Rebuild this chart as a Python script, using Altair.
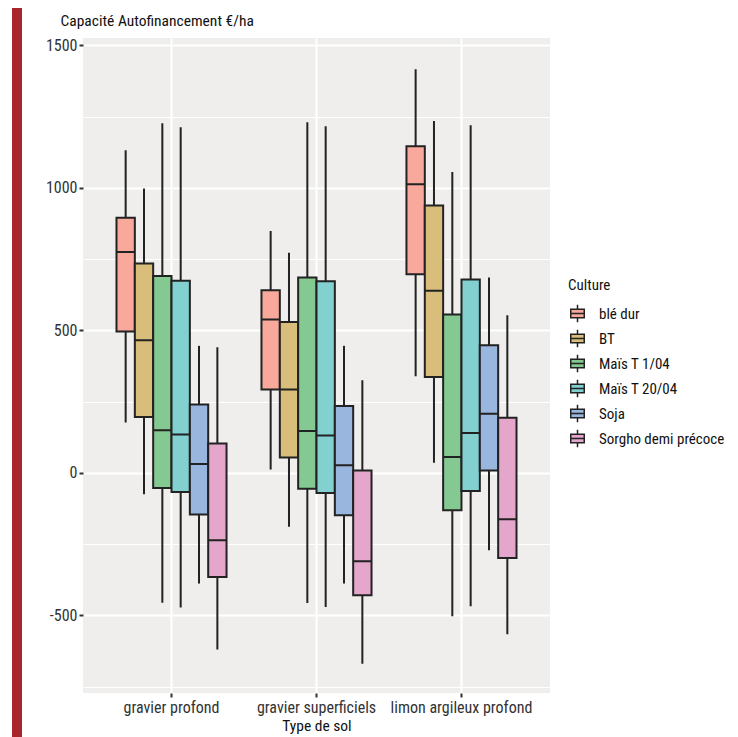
import altair as alt
import pandas as pd

FONT = "Liberation Sans Narrow, Roboto Condensed, DejaVu Sans Condensed, Liberation Sans, sans-serif"

soils = ["gravier profond", "gravier superficiels", "limon argileux profond"]
cultures = ["blé dur", "BT", "Maïs T 1/04", "Maïs T 20/04", "Soja", "Sorgho demi précoce"]
colors = ["#F9A99B", "#D9BD7B", "#84C892", "#82D0D0", "#98B6DE", "#E4A6CB"]

# per soil, per culture (same order as cultures)
whisker_low = [
    [177, -75, -455, -472, -388, -619],
    [12, -189, -456, -470, -388, -669],
    [339, 36, -503, -468, -271, -566],
]
q1 = [
    [496, 196, -53, -67, -146, -365],
    [293, 54, -55, -70, -148, -429],
    [697, 337, -131, -63, 9, -298],
]
median = [
    [775, 466, 150, 135, 31, -236],
    [538, 293, 147, 131, 27, -310],
    [1013, 639, 56, 140, 208, -162],
]
q3 = [
    [895, 735, 691, 674, 240, 103],
    [641, 530, 686, 673, 235, 9],
    [1146, 938, 556, 679, 448, 194],
]
whisker_high = [
    [1132, 998, 1227, 1213, 446, 441],
    [849, 773, 1230, 1216, 446, 325],
    [1416, 1235, 1056, 1220, 686, 553],
]

y_ticks = [-750, -500, -250, 0, 250, 500, 750, 1000, 1250, 1500]
y_domain = [-772, 1526]

rows = []
for i, s in enumerate(soils):
    for j, c in enumerate(cultures):
        rows.append({
            "sol": s, "culture": c,
            "lo": whisker_low[i][j], "q1": q1[i][j], "med": median[i][j],
            "q3": q3[i][j], "hi": whisker_high[i][j],
        })
df = pd.DataFrame(rows)

major = "datum.value % 500 === 0"

x_enc = alt.X(
    "sol:N", sort=soils, title="Type de sol",
    scale=alt.Scale(paddingInner=0.241, paddingOuter=0.231),
    axis=alt.Axis(
        bandPosition=0.5, labelAngle=0, domain=False, grid=True,
        gridColor="white", gridWidth=2, tickColor="#333", tickWidth=2,
        tickSize=4, labelFontSize=16, labelColor="#333", labelPadding=2,
        titleFontSize=15.5, titleFontWeight="normal", titleColor="#111",
        titlePadding=3,
    ),
)
xo_enc = alt.XOffset("culture:N", sort=cultures,
                     scale=alt.Scale(paddingInner=0, paddingOuter=0))
y_scale = alt.Scale(domain=y_domain, nice=False, zero=False)
y_axis = alt.Axis(
    values=y_ticks, domain=False, grid=True, gridColor="white",
    gridWidth={"condition": {"test": major, "value": 2}, "value": 1},
    tickOpacity={"condition": {"test": major, "value": 1}, "value": 0},
    labelExpr=f"{major} ? '' + datum.value : ''",
    tickColor="#333", tickWidth=2, tickSize=4, labelFontSize=16,
    labelColor="#333", labelPadding=2,
    title="Capacité Autofinancement €/ha", titleAngle=0, titleAlign="left",
    titleBaseline="middle", titleX=-23, titleY=-18, titleFontSize=15.5,
    titleFontWeight="normal", titleColor="#111",
)

base = alt.Chart(df)

whiskers = base.mark_rule(color="#222", strokeWidth=2).encode(
    x=x_enc, xOffset=xo_enc,
    y=alt.Y("lo:Q", scale=y_scale, axis=y_axis), y2="hi:Q",
)

legend_symbol = ("M-0.78,-0.5H0.78V0.5H-0.78Z M-0.78,0H0.78 "
                 "M0,-0.5V-1 M0,0.5V1")

boxes = base.mark_bar(stroke="#222", strokeWidth=2, opacity=1).encode(
    x=x_enc, xOffset=xo_enc,
    y=alt.Y("q1:Q", scale=y_scale), y2="q3:Q",
    fill=alt.Fill(
        "culture:N", sort=cultures,
        scale=alt.Scale(domain=cultures, range=colors),
        legend=alt.Legend(
            title="Culture", orient="none", legendX=485, legendY=240,
            symbolType=legend_symbol, symbolSize=300,
            symbolStrokeColor="#222", symbolStrokeWidth=1.5,
            labelFontSize=15, labelColor="#111", titleFontSize=15,
            titleFontWeight="normal", titleColor="#111", rowPadding=0,
            titlePadding=11, padding=0, labelOffset=12,
        ),
    ),
)

medians = base.mark_bar(stroke="#222", strokeWidth=2, fill="#222").encode(
    x=x_enc, xOffset=xo_enc,
    y=alt.Y("med:Q", scale=y_scale), y2="med:Q",
)

red_bar = alt.Chart(pd.DataFrame({"k": [0]})).mark_rect(
    color="#A8252E", clip=False
).encode(
    x=alt.value(-71), x2=alt.value(-61),
    y=alt.value(-40), y2=alt.value(720),
)

chart = alt.layer(red_bar, whiskers, boxes, medians).properties(
    width=467, height=655,
    autosize=alt.AutoSizeParams(type="none"),
    padding={"left": 75, "top": 30, "right": 180, "bottom": 44},
    background="white",
).configure(font=FONT).configure_view(fill="#EFEEEC", stroke=None)

chart.save("out.html", embed_options={"renderer": "svg", "actions": False})
